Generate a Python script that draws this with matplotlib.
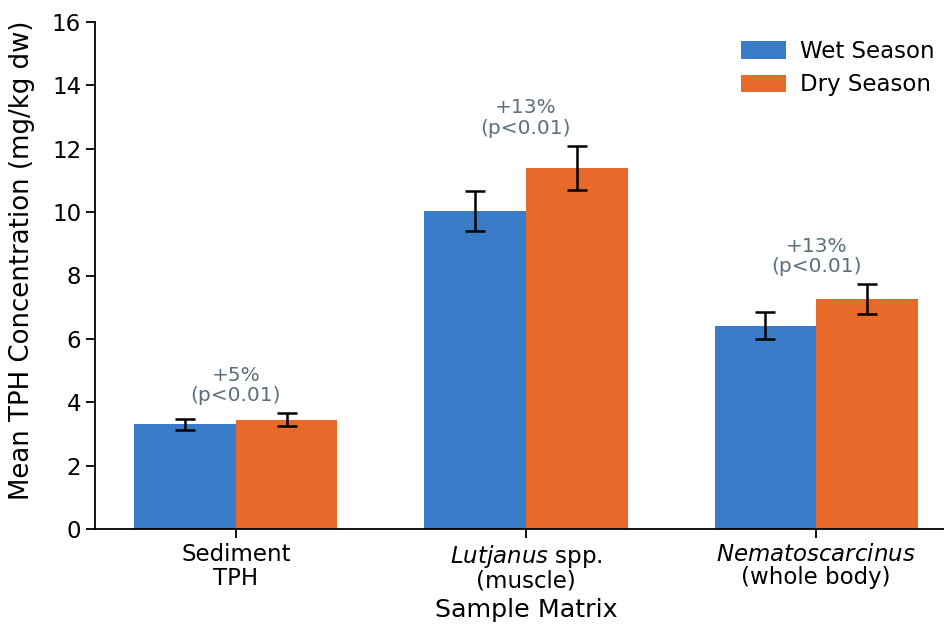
import matplotlib
matplotlib.use("Agg")
import matplotlib.pyplot as plt
import numpy as np

categories = ["Sediment\nTPH", "$\\it{Lutjanus}$ spp.\n(muscle)", "$\\it{Nematoscarcinus}$\n(whole body)"]
wet_mean = [3.30, 10.05, 6.42]
wet_err = [0.17, 0.63, 0.42]
dry_mean = [3.45, 11.40, 7.25]
dry_err = [0.20, 0.70, 0.48]
change_labels = ["+5%\n(p<0.01)", "+13%\n(p<0.01)", "+13%\n(p<0.01)"]

wet_color = "#3a7bc8"
dry_color = "#e8692a"
note_color = "#5b6f7c"

fig = plt.figure(figsize=(9.44, 6.25), dpi=100)
ax = fig.add_axes([95 / 944, 96 / 625, 862 / 944, 507 / 625])

x = np.arange(len(categories))
w = 0.35
ax.bar(x - w / 2, wet_mean, w, color=wet_color, label="Wet Season")
ax.bar(x + w / 2, dry_mean, w, color=dry_color, label="Dry Season")
err_style = dict(fmt="none", ecolor="black", elinewidth=1.8, capsize=7, capthick=1.8)
ax.errorbar(x - w / 2, wet_mean, yerr=wet_err, **err_style)
ax.errorbar(x + w / 2, dry_mean, yerr=dry_err, **err_style)

for i, lab in enumerate(change_labels):
    top = max(wet_mean[i] + wet_err[i], dry_mean[i] + dry_err[i])
    ax.text(x[i], top + 0.25, lab, ha="center", va="bottom",
            fontsize=14.5, color=note_color, linespacing=1.1)

ax.set_xlim(-0.485, 2.485)
ax.set_ylim(0, 16)
ax.set_yticks(np.arange(0, 17, 2))
ax.set_xticks(x)
ax.set_xticklabels(categories, fontsize=16.5)
for t in ax.get_xticklabels():
    t.set_linespacing(1.0 if "$" in t.get_text() else 1.05)
ax.tick_params(axis="y", labelsize=16.5, length=6.5, width=1.3)
ax.tick_params(axis="x", length=6.5, width=1.3)
ax.set_ylabel("Mean TPH Concentration (mg/kg dw)", fontsize=18.7)
ax.yaxis.set_label_coords(-0.07, 0.53)
ax.set_xlabel("Sample Matrix", fontsize=18.3, labelpad=4)
for s in ["top", "right"]:
    ax.spines[s].set_visible(False)
for s in ["left", "bottom"]:
    ax.spines[s].set_linewidth(1.3)

ax.legend(loc="upper right", bbox_to_anchor=(944 / 944, 594 / 625),
          bbox_transform=fig.transFigure, frameon=False, fontsize=16.5,
          handlelength=2.0, handleheight=0.8, handletextpad=0.6,
          labelspacing=0.45, borderaxespad=0.0)

fig.savefig("out.png", dpi=100)
